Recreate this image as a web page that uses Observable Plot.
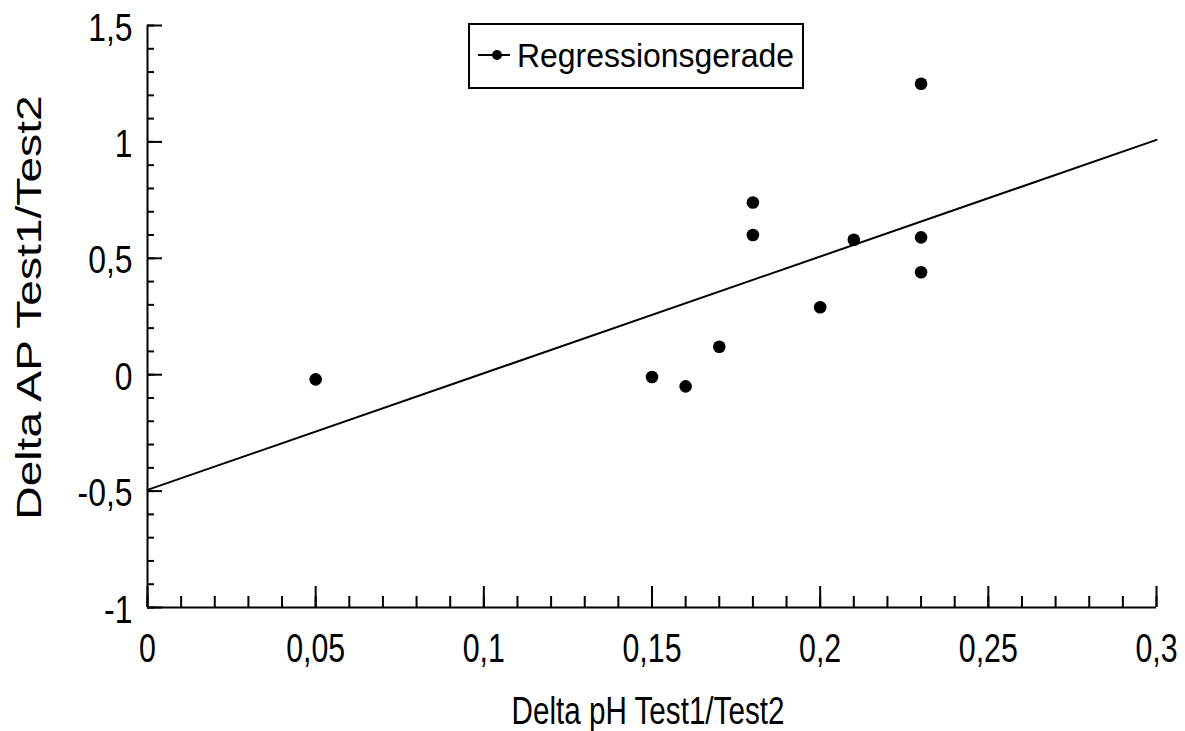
<!DOCTYPE html>
<html><head><meta charset="utf-8">
<script src="https://cdn.jsdelivr.net/npm/d3@7"></script>
<script src="https://cdn.jsdelivr.net/npm/@observablehq/plot@0.6"></script>
<style>
body{margin:0;background:#fff;}
#wrap{position:relative;width:1185px;height:731px;font-family:'Liberation Sans',Arial,sans-serif;}
#legend{position:absolute;left:468px;top:23px;width:336px;height:66px;border:2px solid #000;box-sizing:border-box;background:#fff;}
#legend svg{display:block;overflow:visible;}
</style></head><body><div id="wrap"></div>
<script>
// Data
const xValues = [0.05, 0.15, 0.16, 0.17, 0.18, 0.18, 0.20, 0.21, 0.23, 0.23, 0.23];
const yValues = [-0.02, -0.01, -0.05, 0.12, 0.74, 0.60, 0.29, 0.58, 1.25, 0.59, 0.44];
const xTicks = [0, 0.05, 0.1, 0.15, 0.2, 0.25, 0.3];
const xTickLabels = ["0", "0,05", "0,1", "0,15", "0,2", "0,25", "0,3"];
const yTicks = [-1, -0.5, 0, 0.5, 1, 1.5];
const yTickLabels = ["-1", "-0,5", "0", "0,5", "1", "1,5"];
const xTitle = "Delta pH Test1/Test2";
const yTitle = "Delta AP Test1/Test2";
const legendLabel = "Regressionsgerade";

const points = xValues.map((x, i) => ({x, y: yValues[i]}));
const xDomain = [xTicks[0], xTicks[xTicks.length - 1]];
const yDomain = [yTicks[0], yTicks[yTicks.length - 1]];
const xMinor = d3.range(0, 31).map(i => i / 100);
const yMinor = d3.range(-10, 16).map(i => i / 10);

// least-squares regression from the data
const mx = d3.mean(xValues), my = d3.mean(yValues);
const slope = d3.sum(points, p => (p.x - mx) * (p.y - my)) / d3.sum(points, p => (p.x - mx) ** 2);
const intercept = my - slope * mx;
const regLine = xDomain.map(x => ({x, y: intercept + slope * x}));

const xLab = new Map(xTicks.map((t, i) => [t, xTickLabels[i]]));
const yLab = new Map(yTicks.map((t, i) => [t, yTickLabels[i]]));

const plot = Plot.plot({
  width: 1185, height: 731,
  marginLeft: 147, marginRight: 29, marginTop: 25, marginBottom: 124,
  style: {fontFamily: "'Liberation Sans', Arial, sans-serif", background: "#fff", color: "#000"},
  x: {domain: xDomain},
  y: {domain: yDomain},
  marks: [
    Plot.axisX({ticks: xMinor, tickSize: -11, strokeWidth: 2, tickFormat: () => "", label: null}),
    Plot.axisX({ticks: xTicks, tickSize: -21, strokeWidth: 2, tickFormat: () => "", label: null}),
    Plot.axisX({ticks: xTicks, tickSize: 0, tickPadding: 25, tickFormat: d => xLab.get(d), fontSize: 41, label: null}),
    Plot.axisY({ticks: yMinor, tickSize: -7, strokeWidth: 2, tickFormat: () => "", label: null}),
    Plot.axisY({ticks: yTicks, tickSize: -15, strokeWidth: 2, tickFormat: () => "", label: null}),
    Plot.axisY({ticks: yTicks, tickSize: 0, tickPadding: 15, dy: 3, tickFormat: d => yLab.get(d), fontSize: 38, label: null}),
    Plot.ruleX([xDomain[0]], {stroke: "#000", strokeWidth: 2}),
    Plot.ruleY([yDomain[0]], {stroke: "#000", strokeWidth: 2}),
    Plot.line(regLine, {x: "x", y: "y", stroke: "#000", strokeWidth: 2}),
    Plot.dot(points, {x: "x", y: "y", r: 6.3, fill: "#000", stroke: "none"}),
    Plot.text([xTitle], {frameAnchor: "bottom", textAnchor: "middle", dx: -4, dy: 116, lineAnchor: "bottom", fontSize: 39, fill: "#000"}),
    Plot.text([yTitle], {frameAnchor: "left", textAnchor: "middle", dx: -107, dy: -9, rotate: -90, lineAnchor: "bottom", fontSize: 35, fill: "#000"})
  ]
});

// post-process: condensed / stretched text widths as in the reference
function stretch(el, s) {
  const t = el.getAttribute("transform") || "";
  el.setAttribute("transform", `${t} scale(${s},1)`);
}
const svg = d3.select(plot);
svg.selectAll('g[aria-label="x-axis tick label"] text').each(function() { stretch(this, 0.74); });
svg.selectAll('g[aria-label="y-axis tick label"] text').each(function() { stretch(this, 0.84); });
svg.selectAll("text").filter(function() { return this.textContent === xTitle; }).each(function() { stretch(this, 0.76); });
svg.selectAll("text").filter(function() { return this.textContent === yTitle; }).each(function() { stretch(this, 1.32); });

const wrap = document.getElementById("wrap");
wrap.appendChild(plot);

// legend box (overlay)
const legend = document.createElement("div");
legend.id = "legend";
legend.innerHTML = `<svg width="332" height="62">
  <line x1="8" x2="40" y1="30" y2="30" stroke="#000" stroke-width="2"/>
  <circle cx="27" cy="30" r="5" fill="#000"/>
  <text x="0" y="0" transform="translate(47,42) scale(0.94,1)" font-size="34" font-family="'Liberation Sans', Arial, sans-serif">${legendLabel}</text>
</svg>`;
wrap.appendChild(legend);
</script></body></html>
